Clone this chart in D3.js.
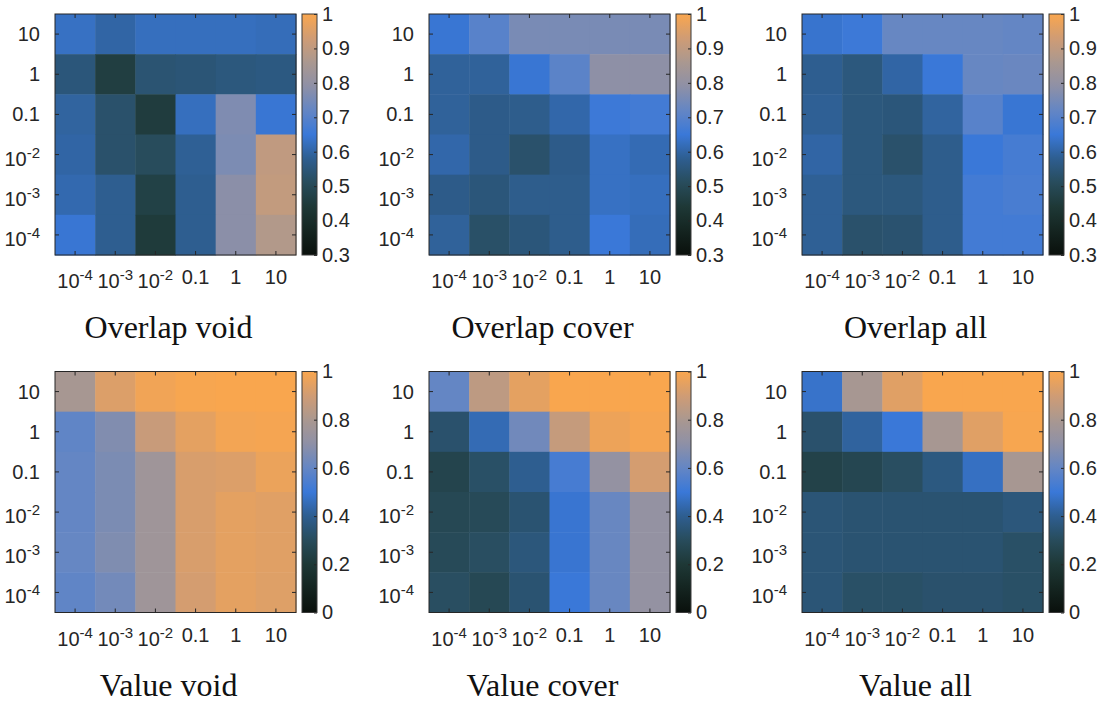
<!DOCTYPE html>
<html>
<head>
<meta charset="utf-8">
<script src="https://cdn.jsdelivr.net/npm/d3@7"></script>
<style>
  body { margin: 0; background: #fff; }
  svg { display: block; }
</style>
</head>
<body>
<svg id="fig" width="1106" height="704"></svg>
<script>
// Parameter grid (same values on both axes); "^" marks an exponent
const paramLabels = ["10^-4", "10^-3", "10^-2", "0.1", "1", "10"];

// Rows listed top to bottom: 10, 1, 0.1, 10^-2, 10^-3, 10^-4
const overlapVoid = [
  [0.630, 0.600, 0.625, 0.625, 0.625, 0.620],
  [0.550, 0.460, 0.540, 0.545, 0.555, 0.560],
  [0.595, 0.530, 0.455, 0.625, 0.765, 0.645],
  [0.600, 0.530, 0.510, 0.585, 0.760, 0.900],
  [0.610, 0.580, 0.470, 0.580, 0.785, 0.905],
  [0.645, 0.580, 0.450, 0.580, 0.785, 0.875]
];
const overlapCover = [
  [0.645, 0.700, 0.755, 0.755, 0.755, 0.755],
  [0.590, 0.590, 0.645, 0.705, 0.790, 0.790],
  [0.590, 0.570, 0.575, 0.605, 0.655, 0.665],
  [0.605, 0.570, 0.530, 0.570, 0.630, 0.615],
  [0.570, 0.550, 0.575, 0.575, 0.630, 0.625],
  [0.590, 0.525, 0.550, 0.575, 0.650, 0.620]
];
const overlapAll = [
  [0.640, 0.655, 0.725, 0.725, 0.725, 0.720],
  [0.580, 0.555, 0.600, 0.650, 0.725, 0.730],
  [0.585, 0.555, 0.550, 0.595, 0.700, 0.645],
  [0.600, 0.555, 0.530, 0.575, 0.650, 0.670],
  [0.585, 0.555, 0.555, 0.575, 0.665, 0.675],
  [0.585, 0.530, 0.535, 0.575, 0.665, 0.665]
];
const valueVoid = [
  [0.79, 0.93, 0.98, 0.995, 1.00, 1.00],
  [0.59, 0.67, 0.88, 0.95, 0.985, 0.99],
  [0.60, 0.655, 0.76, 0.92, 0.93, 0.965],
  [0.60, 0.655, 0.76, 0.92, 0.95, 0.94],
  [0.605, 0.665, 0.76, 0.92, 0.95, 0.94],
  [0.59, 0.635, 0.76, 0.91, 0.95, 0.935]
];
const valueCover = [
  [0.60, 0.85, 0.95, 1.00, 1.00, 1.00],
  [0.33, 0.45, 0.63, 0.87, 0.97, 0.99],
  [0.26, 0.32, 0.40, 0.53, 0.72, 0.91],
  [0.28, 0.29, 0.34, 0.49, 0.61, 0.72],
  [0.29, 0.31, 0.36, 0.49, 0.61, 0.72],
  [0.31, 0.28, 0.34, 0.50, 0.61, 0.72]
];
const valueAll = [
  [0.48, 0.79, 0.94, 1.00, 1.00, 1.00],
  [0.33, 0.42, 0.50, 0.79, 0.94, 0.995],
  [0.25, 0.27, 0.31, 0.37, 0.47, 0.79],
  [0.35, 0.34, 0.34, 0.34, 0.34, 0.36],
  [0.35, 0.34, 0.34, 0.34, 0.34, 0.32],
  [0.35, 0.32, 0.32, 0.33, 0.33, 0.32]
];

const overlapTicks = [0.3, 0.4, 0.5, 0.6, 0.7, 0.8, 0.9, 1];
const valueTicks = [0, 0.2, 0.4, 0.6, 0.8, 1];

const panelTitles = ["Overlap void", "Overlap cover", "Overlap all",
                     "Value void", "Value cover", "Value all"];

// Colormap: black -> dark teal -> blue -> grey -> orange
const cmapPos = [0.00, 0.10, 0.20, 0.30, 0.40, 0.50, 0.60, 0.70, 0.80, 0.90, 1.00];
const cmapCol = ["#0a100c", "#142420", "#1e3836", "#284c5c", "#2e5e90", "#3a78d8",
                 "#6486c4", "#8e90a6", "#aa9890", "#d09c74", "#f9a64e"];
const cmap = d3.scaleLinear().domain(cmapPos).range(cmapCol)
  .interpolate(d3.interpolateRgb).clamp(true);

const panels = [
  { title: panelTitles[0], data: overlapVoid,  domain: [0.3, 1], ticks: overlapTicks },
  { title: panelTitles[1], data: overlapCover, domain: [0.3, 1], ticks: overlapTicks },
  { title: panelTitles[2], data: overlapAll,   domain: [0.3, 1], ticks: overlapTicks },
  { title: panelTitles[3], data: valueVoid,    domain: [0, 1],   ticks: valueTicks },
  { title: panelTitles[4], data: valueCover,   domain: [0, 1],   ticks: valueTicks },
  { title: panelTitles[5], data: valueAll,     domain: [0, 1],   ticks: valueTicks }
];

// Layout
const colLeft = [55, 429, 802];
const rowTop = [14, 371.5];
const size = 241;
const cbGap = 6, cbWidth = 15;
const axisColor = "#262626";
const tickFont = "Liberation Sans, Arial, Helvetica, sans-serif";
const tickSize = 20, expSize = 15;
const titleFont = "Liberation Serif, Times New Roman, serif";

const svg = d3.select("#fig");
const defs = svg.append("defs");

// Colormap gradient for the colorbars
const grad = defs.append("linearGradient")
  .attr("id", "cmapGrad").attr("x1", 0).attr("y1", 1).attr("x2", 0).attr("y2", 0);
d3.range(0, 1.0001, 0.02).forEach(t => {
  grad.append("stop").attr("offset", t).attr("stop-color", cmap(t));
});

// Write a tick label, turning "10^-4" into 10 with a raised exponent
function writeLabel(textSel, label) {
  const parts = label.split("^");
  textSel.append("tspan").text(parts[0]);
  if (parts.length > 1) {
    textSel.append("tspan").attr("dy", -8).attr("font-size", expSize).text(parts[1]);
  }
}

const rowLabels = paramLabels.slice().reverse();

panels.forEach((p, i) => {
  const left = colLeft[i % 3];
  const top = rowTop[Math.floor(i / 3)];
  const g = svg.append("g").attr("transform", `translate(${left},${top})`);

  const x = d3.scaleBand().domain(paramLabels).range([0, size]);
  const y = d3.scaleBand().domain(rowLabels).range([0, size]);
  const norm = d3.scaleLinear().domain(p.domain).range([0, 1]).clamp(true);

  // Cells
  const cells = [];
  p.data.forEach((row, r) => row.forEach((v, c) => cells.push({ r, c, v })));
  g.selectAll("rect.cell").data(cells).join("rect")
    .attr("class", "cell")
    .attr("x", d => x(paramLabels[d.c]))
    .attr("y", d => y(rowLabels[d.r]))
    .attr("width", x.bandwidth() + 0.5)
    .attr("height", y.bandwidth() + 0.5)
    .attr("fill", d => cmap(norm(d.v)));

  // Inward tick marks on all four sides
  const tickLen = 4;
  const axes = [
    [d3.axisBottom(x), `translate(0,${size})`],
    [d3.axisTop(x), `translate(0,0)`],
    [d3.axisLeft(y), `translate(0,0)`],
    [d3.axisRight(y), `translate(${size},0)`]
  ];
  axes.forEach(([ax, tr]) => {
    const a = g.append("g").attr("transform", tr)
      .call(ax.tickSize(-tickLen).tickSizeOuter(0).tickFormat(() => ""));
    a.select(".domain").remove();
    a.selectAll("line").attr("stroke", axisColor).attr("stroke-width", 1);
  });

  // Frame
  g.append("rect").attr("x", 0).attr("y", 0).attr("width", size).attr("height", size)
    .attr("fill", "none").attr("stroke", axisColor).attr("stroke-width", 1);

  // X tick labels
  paramLabels.forEach(lab => {
    const sup = lab.includes("^");
    const t = g.append("text")
      .attr("x", x(lab) + x.bandwidth() / 2)
      .attr("y", size + (sup ? 33 : 29))
      .attr("text-anchor", "middle")
      .attr("font-family", tickFont).attr("font-size", tickSize).attr("fill", axisColor);
    writeLabel(t, lab);
  });

  // Y tick labels
  rowLabels.forEach(lab => {
    const sup = lab.includes("^");
    const t = g.append("text")
      .attr("x", -15)
      .attr("y", y(lab) + y.bandwidth() / 2 + (sup ? 11 : 7))
      .attr("text-anchor", "end")
      .attr("font-family", tickFont).attr("font-size", tickSize).attr("fill", axisColor);
    writeLabel(t, lab);
  });

  // Colorbar
  const cbX = size + cbGap;
  const cy = d3.scaleLinear().domain(p.domain).range([size, 0]);
  g.append("rect").attr("x", cbX).attr("y", 0).attr("width", cbWidth).attr("height", size)
    .attr("fill", "url(#cmapGrad)");
  const cbAxis = g.append("g").attr("transform", `translate(${cbX + cbWidth},0)`)
    .call(d3.axisRight(cy).tickValues(p.ticks).tickSize(-3).tickSizeOuter(0).tickPadding(5)
      .tickFormat(v => String(+v.toFixed(1))));
  cbAxis.select(".domain").remove();
  cbAxis.selectAll("line").attr("stroke", axisColor);
  cbAxis.selectAll("text")
    .attr("font-family", tickFont).attr("font-size", tickSize).attr("fill", axisColor);
  g.append("rect").attr("x", cbX).attr("y", 0).attr("width", cbWidth).attr("height", size)
    .attr("fill", "none").attr("stroke", "#3a3a3a").attr("stroke-width", 1);

  // Panel title
  g.append("text")
    .attr("x", size / 2 - 7)
    .attr("y", size + 83)
    .attr("text-anchor", "middle")
    .attr("font-family", titleFont).attr("font-size", 32).attr("fill", "#111")
    .text(p.title);
});
</script>
</body>
</html>
